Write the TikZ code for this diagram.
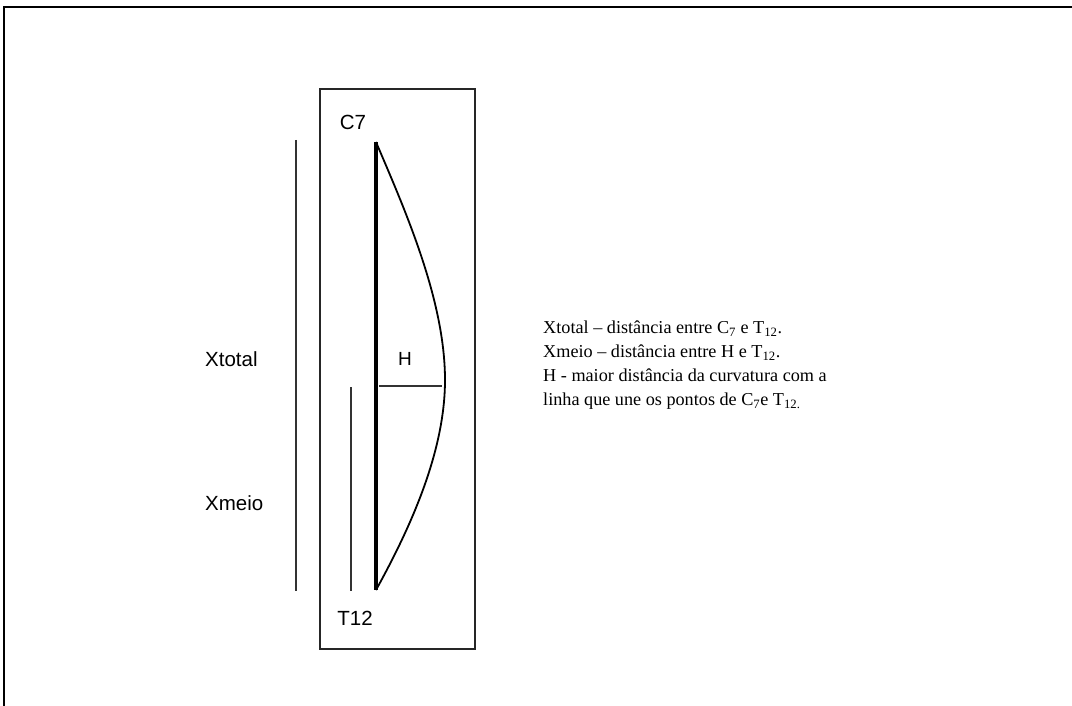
\documentclass[tikz,border=0pt]{standalone}
\usepackage{fontspec}
\setmainfont{Liberation Serif}
\newfontfamily\arialfont{Liberation Sans}
\begin{document}
\begin{tikzpicture}[x=1pt,y=-1pt,
  lbl/.style={font=\arialfont\fontsize{20.5}{22}\selectfont, inner sep=0pt},
  thin line/.style={line width=1.3pt, black!80},
  frame line/.style={line width=2pt, black}]
\useasboundingbox (0,0) rectangle (1072,706);
% outer frame (top and left)
\draw[frame line] (1072,7) -- (4,7) -- (4,706);
% inner box
\draw[line width=1.2pt, black!85] (320,89) rectangle (475,649);
% named points
\coordinate (top) at (376,142);
\coordinate (bot) at (376,590);
\coordinate (apex) at (445,380);
\coordinate (hL) at (379,386);
\coordinate (hR) at (442,386);
% spine line
\draw[line width=4.5pt] (top) -- (bot);
% curvature
\draw[line width=1.8pt] (top) .. controls (405,210) and (445,300) .. (apex)
  .. controls (445,450) and (412,525) .. (bot);
% H line
\draw[thin line] (hL) -- (hR);
\node[lbl, font=\arialfont\fontsize{19}{22}\selectfont] (H) at (405,359) {H};
% measurement lines
\coordinate (xt1) at (296,140);
\coordinate (xt2) at (296,591);
\coordinate (xm1) at (351,387);
\coordinate (xm2) at (351,591);
\draw[thin line] (xt1) -- (xt2);
\draw[thin line] (xm1) -- (xm2);
% labels
\node[lbl] (c7) at (353,122) {C7};
\node[lbl] (t12) at (355,618) {T12};
\node[lbl, anchor=west] (xtotal) at (205,359) {Xtotal};
\node[lbl, anchor=west] (xmeio) at (205,503) {Xmeio};
% legend
\node[anchor=north west, align=left, inner sep=0pt, font=\fontsize{18.2}{24}\selectfont] (legend) at (543,321)
 {Xtotal -- distância entre C\textsubscript{7} e T\textsubscript{12}.\\
  Xmeio -- distância entre H e T\textsubscript{12}.\\
  H - maior distância da curvatura com a\\
  linha que une os pontos de C\textsubscript{7}e T\textsubscript{12.}};
\end{tikzpicture}
\end{document}
